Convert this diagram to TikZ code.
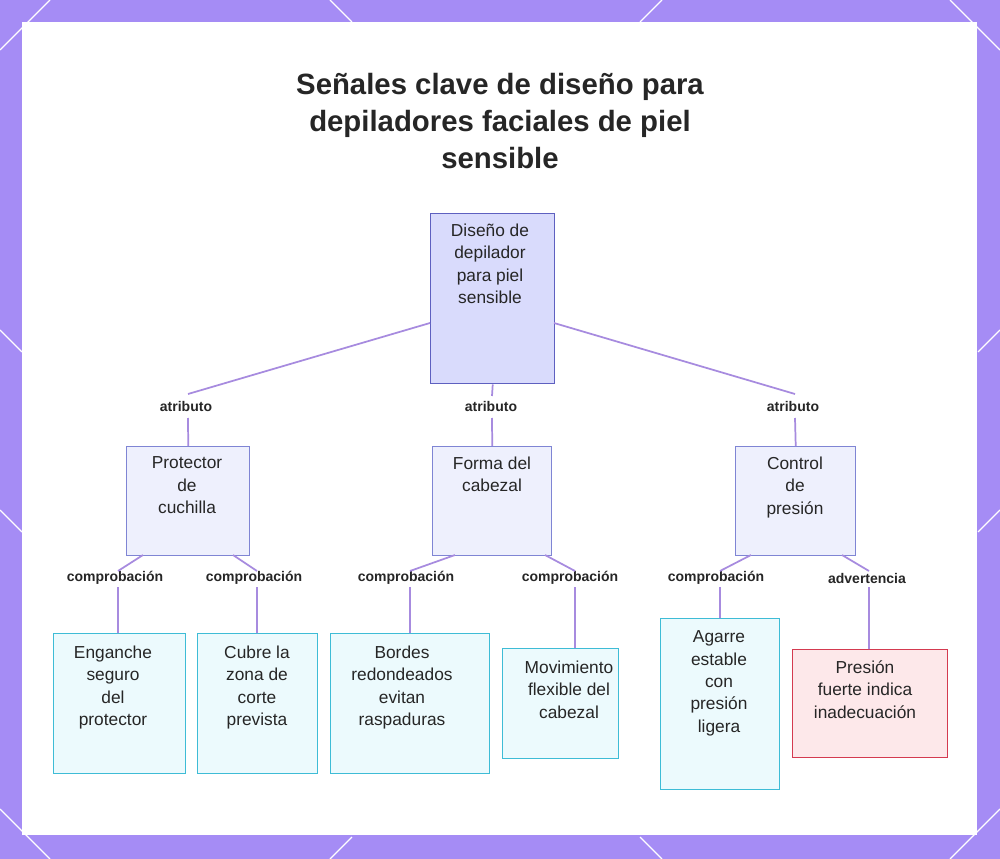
\documentclass[tikz,border=0pt]{standalone}
\usepackage{fontspec}
\setmainfont{Liberation Sans}
\begin{document}
\begin{tikzpicture}[x=0.75pt,y=-0.75pt,
  box/.style={draw, line width=1.1pt, inner sep=0pt},
  tx/.style={font=\fontsize{13}{16.8}\selectfont, align=center, anchor=north, text=black!85},
  rootb/.style={box, fill=rootf, draw=rootd},
  midb/.style={box, fill=midf, draw=midd},
  leafb/.style={box, fill=leaff, draw=leafd},
  warnb/.style={box, fill=warnf, draw=warnd},
  lab/.style={font=\bfseries\fontsize{10.5}{12}\selectfont, text=black!85, inner sep=2pt},
  ln/.style={draw=linec, line width=1.3pt}]
\definecolor{bg}{HTML}{A58CF5}
\definecolor{rootf}{HTML}{D9DBFC}\definecolor{rootd}{HTML}{5E60C0}
\definecolor{midf}{HTML}{EEF0FD}\definecolor{midd}{HTML}{7F85D4}
\definecolor{leaff}{HTML}{ECFAFD}\definecolor{leafd}{HTML}{3EBCD6}
\definecolor{warnf}{HTML}{FDE8EA}\definecolor{warnd}{HTML}{D43A50}
\definecolor{linec}{HTML}{A78BDF}
\fill[bg] (0,0) rectangle (1000,859);
\useasboundingbox (0,0) rectangle (1000,859);
\begin{scope}[white, line width=1pt]
\draw (0,50)--(50,0); \draw (330,0)--(352,22); \draw (640,22)--(662,0);
\draw (950,0)--(1000,50); \draw (0,330)--(22,352); \draw (978,352)--(1000,330);
\draw (0,510)--(22,532); \draw (978,532)--(1000,510);
\draw (0,809)--(50,859); \draw (330,859)--(352,837); \draw (640,837)--(662,859); \draw (950,859)--(1000,809);
\end{scope}
\fill[white] (22,22) rectangle (977,835);
\node[font=\bfseries\fontsize{22}{28}\selectfont, align=center, text=black!85] (title) at (500,121) {Señales clave de diseño para\\depiladores faciales de piel\\sensible};
\node[rootb, minimum width=124*0.75pt, minimum height=170*0.75pt, anchor=north west] (root) at (430,213) {};
\node[tx] at (490,219) {Diseño de\\depilador\\para piel\\sensible};
\node[midb, minimum width=123*0.75pt, minimum height=109*0.75pt, anchor=north west] (p) at (126,446) {};
\node[tx] at (187,452) {Protector\\de\\cuchilla};
\node[midb, minimum width=119*0.75pt, minimum height=109*0.75pt, anchor=north west] (f) at (432,446) {};
\node[tx] at (492,452) {Forma del\\cabezal};
\node[midb, minimum width=120*0.75pt, minimum height=109*0.75pt, anchor=north west] (c) at (735,446) {};
\node[tx] at (795,452) {Control\\de\\presión};
\node[leafb, minimum width=132*0.75pt, minimum height=140*0.75pt, anchor=north west] (l1) at (53,633) {};
\node[tx] at (113,641) {Enganche\\seguro\\del\\protector};
\node[leafb, minimum width=120*0.75pt, minimum height=140*0.75pt, anchor=north west] (l2) at (197,633) {};
\node[tx] at (257,641) {Cubre la\\zona de\\corte\\prevista};
\node[leafb, minimum width=159*0.75pt, minimum height=140*0.75pt, anchor=north west] (l3) at (330,633) {};
\node[tx] at (402,641) {Bordes\\redondeados\\evitan\\raspaduras};
\node[leafb, minimum width=116*0.75pt, minimum height=110*0.75pt, anchor=north west] (l4) at (502,648) {};
\node[tx] at (569,656) {Movimiento\\flexible del\\cabezal};
\node[leafb, minimum width=119*0.75pt, minimum height=171*0.75pt, anchor=north west] (l5) at (660,618) {};
\node[tx] at (719,626) {Agarre\\estable\\con\\presión\\ligera};
\node[warnb, minimum width=155*0.75pt, minimum height=108*0.75pt, anchor=north west] (l6) at (792,649) {};
\node[tx] at (865,656) {Presión\\fuerte indica\\inadecuación};
\node[lab] (a1) at (186,406) {atributo};
\node[lab] (a2) at (491,406) {atributo};
\node[lab] (a3) at (793,406) {atributo};
\node[lab] (b1) at (115,578) {comprobación};
\node[lab] (b2) at (254,578) {comprobación};
\node[lab] (b3) at (406,578) {comprobación};
\node[lab] (b4) at (570,578) {comprobación};
\node[lab] (b5) at (716,578) {comprobación};
\node[lab] (b6) at (867,578) {advertencia};
\coordinate (e1) at (188,394); \coordinate (e3) at (795,394);
\path[ln] (430,323) -- (e1) (188,418) -- (p.north);
\path[ln] (root.south) -- (492,396) (492,418) -- (f.north);
\path[ln] (554,323) -- (e3) (795,418) -- (c.north);
\path[ln] (143,555) -- (118,571) (118,587) -- (118,633);
\path[ln] (233,555) -- (257,571) (257,587) -- (257,633);
\path[ln] (455,555) -- (410,571) (410,587) -- (410,633);
\path[ln] (545,555) -- (575,571) (575,587) -- (575,648);
\path[ln] (751,555) -- (720,571) (720,587) -- (720,618);
\path[ln] (842,555) -- (869,571) (869,587) -- (869,649);
\end{tikzpicture}
\end{document}
